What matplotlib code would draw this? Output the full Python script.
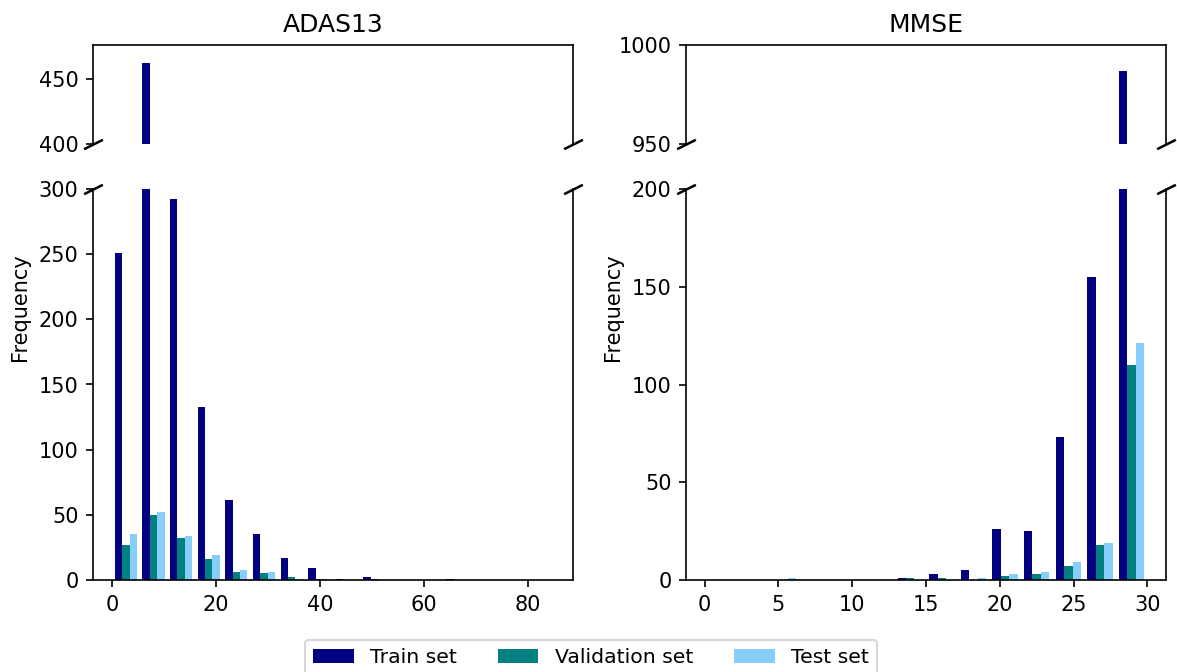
import numpy as np
import matplotlib
matplotlib.use("Agg")
import matplotlib.pyplot as plt

# ---- data (counts per histogram bin) ----
series_labels = ["Train set", "Validation set", "Test set"]
series_colors = ["navy", "teal", "lightskyblue"]

adas_range = (0, 85)
adas_train = [251, 462, 292, 133, 61, 35, 17, 9, 1, 2, 0, 0, 1, 0, 0, 0]
adas_val = [27, 50, 32, 16, 6, 5, 2, 1, 0, 1, 0, 0, 0, 0, 0, 0]
adas_test = [35, 52, 34, 19, 8, 6, 1, 1, 0, 0, 0, 0, 0, 0, 0, 0]
adas_ylim_low = (0, 300)
adas_ylim_high = (400, 476)
adas_yticks_low = [0, 50, 100, 150, 200, 250, 300]
adas_yticks_high = [400, 450]

mmse_range = (0, 30)
mmse_train = [0, 0, 0, 0, 0, 0, 1, 3, 5, 26, 25, 73, 155, 987]
mmse_val = [0, 0, 0, 0, 0, 0, 1, 1, 0, 2, 3, 7, 18, 110]
mmse_test = [0, 0, 1, 0, 0, 0, 0, 0, 1, 3, 4, 9, 19, 121]
mmse_ylim_low = (0, 200)
mmse_ylim_high = (950, 1000)
mmse_yticks_low = [0, 50, 100, 150, 200]
mmse_yticks_high = [950, 1000]


def broken_hist(fig, rect_top, rect_bot, counts, rng, ylim_low, ylim_high,
                yticks_low, yticks_high, title):
    ax_top = fig.add_axes(rect_top)
    ax_bot = fig.add_axes(rect_bot, sharex=ax_top)
    n_bins = len(counts[0])
    edges = np.linspace(rng[0], rng[1], n_bins + 1)
    centers = (edges[:-1] + edges[1:]) / 2
    for ax in (ax_top, ax_bot):
        ax.hist([centers] * 3, bins=edges, weights=counts,
                color=series_colors, label=series_labels)
    ax_top.set_ylim(*ylim_high)
    ax_bot.set_ylim(*ylim_low)
    ax_top.set_yticks(yticks_high)
    ax_bot.set_yticks(yticks_low)

    ax_top.spines['bottom'].set_visible(False)
    ax_bot.spines['top'].set_visible(False)
    ax_top.tick_params(bottom=False, labelbottom=False)
    ax_bot.set_ylabel("Frequency")
    # centre the label on the whole broken column
    ax_bot.yaxis.label.set_y(0.697)
    ax_top.set_title(title, fontsize=12)

    # break marks
    d = .5
    kw = dict(marker=[(-1, -d), (1, d)], markersize=9, linestyle="none",
              color='k', mec='k', mew=1.2, clip_on=False)
    ax_top.plot([0, 1], [0, 0], transform=ax_top.transAxes, **kw)
    ax_bot.plot([0, 1], [1, 1], transform=ax_bot.transAxes, **kw)
    return ax_top, ax_bot


W, H = 1177, 672
dpi = 150
fig = plt.figure(figsize=(W / dpi, H / dpi), dpi=dpi)

top_b, top_h = 1 - 144 / H, 99 / H
bot_b, bot_h = 1 - 580 / H, 391 / H
col_w = 480 / W

broken_hist(fig, [93 / W, top_b, col_w, top_h], [93 / W, bot_b, col_w, bot_h],
            [adas_train, adas_val, adas_test], adas_range,
            adas_ylim_low, adas_ylim_high, adas_yticks_low, adas_yticks_high, "ADAS13")
ax_top, ax_bot = broken_hist(fig, [686 / W, top_b, col_w, top_h], [686 / W, bot_b, col_w, bot_h],
                             [mmse_train, mmse_val, mmse_test], mmse_range,
                             mmse_ylim_low, mmse_ylim_high, mmse_yticks_low, mmse_yticks_high,
                             "MMSE")

handles, labels = ax_bot.get_legend_handles_labels()
fig.legend(handles, labels, loc='upper center', ncol=3, fontsize=9.8,
           borderaxespad=0, bbox_to_anchor=(0.502, 1 - 640 / H))

fig.savefig("out.png", dpi=dpi)
